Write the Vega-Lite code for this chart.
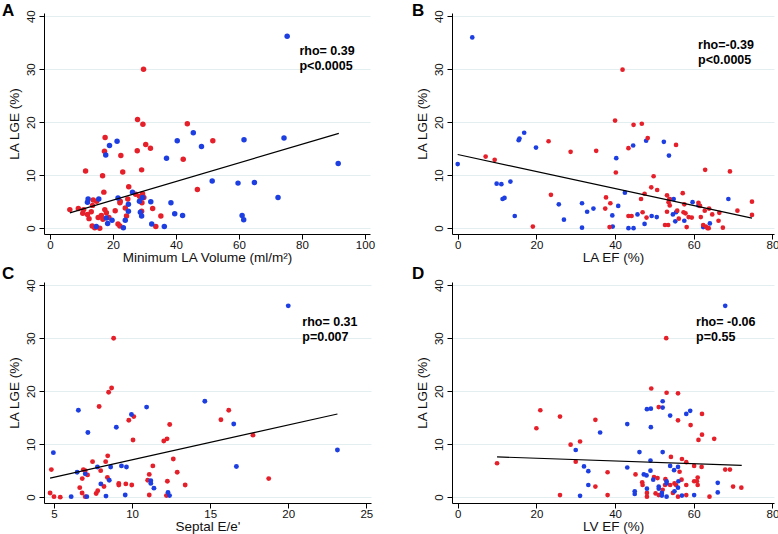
{
  "$schema": "https://vega.github.io/schema/vega-lite/v6.json",
  "padding": {"left": 2, "top": 1, "right": 2, "bottom": 2},
  "columns": 2,
  "bounds": "flush",
  "spacing": {"row": 48, "column": 81},
  "config": {
    "font": "Liberation Sans",
    "view": {"stroke": null},
    "axis": {"domainColor": "#000", "tickColor": "#000", "labelColor": "#111", "titleColor": "#111", "labelFontSize": 11.5, "titleFontSize": 13.5, "titleFontWeight": "normal", "tickSize": 5, "gridColor": "#e2eef0", "gridWidth": 1, "labelFont": "Liberation Sans", "titleFont": "Liberation Sans"},
    "axisX": {"grid": false, "labelPadding": 0, "titlePadding": 0},
    "axisY": {"labelAngle": -90, "labelAlign": "center", "labelBaseline": "bottom", "labelPadding": 3, "titlePadding": 4},
    "title": {"fontSize": 17, "fontWeight": "bold", "color": "#000", "anchor": "start", "frame": "group"}
  },
  "datasets": {
    "a_pts": [
      {"x":29.7,"y":30.0,"g":"g1"},{"x":27.8,"y":20.5,"g":"g1"},{"x":29.5,"y":19.6,"g":"g1"},{"x":17.5,"y":17.1,"g":"g1"},{"x":17.3,"y":14.5,"g":"g1"},{"x":27.7,"y":14.6,"g":"g1"},{"x":30.4,"y":15.8,"g":"g1"},{"x":31.9,"y":15.1,"g":"g1"},{"x":42.3,"y":13.0,"g":"g1"},{"x":43.6,"y":19.7,"g":"g1"},{"x":22.5,"y":13.7,"g":"g1"},{"x":29.1,"y":11.0,"g":"g1"},{"x":11.3,"y":10.8,"g":"g1"},{"x":16.7,"y":9.9,"g":"g1"},{"x":23.1,"y":10.6,"g":"g1"},{"x":46.8,"y":7.3,"g":"g1"},{"x":51.7,"y":16.5,"g":"g1"},{"x":25.0,"y":7.8,"g":"g1"},{"x":17.1,"y":6.8,"g":"g1"},{"x":27.2,"y":6.4,"g":"g1"},{"x":28.4,"y":6.0,"g":"g1"},{"x":29.4,"y":6.5,"g":"g1"},{"x":29.8,"y":5.8,"g":"g1"},{"x":13.7,"y":5.3,"g":"g1"},{"x":14.8,"y":5.1,"g":"g1"},{"x":13.5,"y":4.3,"g":"g1"},{"x":10.7,"y":3.5,"g":"g1"},{"x":9.0,"y":3.7,"g":"g1"},{"x":6.3,"y":3.5,"g":"g1"},{"x":10.4,"y":2.8,"g":"g1"},{"x":11.9,"y":2.6,"g":"g1"},{"x":13.1,"y":3.1,"g":"g1"},{"x":17.4,"y":3.5,"g":"g1"},{"x":17.9,"y":2.9,"g":"g1"},{"x":16.3,"y":2.4,"g":"g1"},{"x":12.4,"y":1.8,"g":"g1"},{"x":15.3,"y":2.0,"g":"g1"},{"x":16.8,"y":1.7,"g":"g1"},{"x":18.7,"y":2.0,"g":"g1"},{"x":20.7,"y":3.3,"g":"g1"},{"x":22.2,"y":4.8,"g":"g1"},{"x":22.3,"y":5.1,"g":"g1"},{"x":24.7,"y":5.5,"g":"g1"},{"x":23.9,"y":3.8,"g":"g1"},{"x":24.3,"y":2.3,"g":"g1"},{"x":21.6,"y":0.8,"g":"g1"},{"x":22.2,"y":0.4,"g":"g1"},{"x":13.4,"y":0.4,"g":"g1"},{"x":14.2,"y":0.1,"g":"g1"},{"x":15.8,"y":0.0,"g":"g1"},{"x":29.1,"y":3.2,"g":"g1"},{"x":29.2,"y":4.8,"g":"g1"},{"x":32.6,"y":3.7,"g":"g1"},{"x":35.2,"y":2.3,"g":"g1"},{"x":33.6,"y":0.3,"g":"g1"},
      {"x":18.9,"y":15.6,"g":"g2"},{"x":21.3,"y":16.4,"g":"g2"},{"x":17.7,"y":13.8,"g":"g2"},{"x":40.4,"y":16.5,"g":"g2"},{"x":45.5,"y":18.0,"g":"g2"},{"x":37.0,"y":13.2,"g":"g2"},{"x":26.2,"y":6.8,"g":"g2"},{"x":12.1,"y":5.5,"g":"g2"},{"x":11.9,"y":4.9,"g":"g2"},{"x":15.5,"y":5.5,"g":"g2"},{"x":17.9,"y":1.9,"g":"g2"},{"x":19.7,"y":1.5,"g":"g2"},{"x":21.6,"y":5.7,"g":"g2"},{"x":24.9,"y":4.5,"g":"g2"},{"x":24.9,"y":3.2,"g":"g2"},{"x":23.9,"y":1.5,"g":"g2"},{"x":23.3,"y":0.1,"g":"g2"},{"x":14.7,"y":0.3,"g":"g2"},{"x":18.3,"y":0.9,"g":"g2"},{"x":28.7,"y":3.0,"g":"g2"},{"x":29.1,"y":2.3,"g":"g2"},{"x":28.4,"y":5.1,"g":"g2"},{"x":32.0,"y":5.0,"g":"g2"},{"x":29.4,"y":5.8,"g":"g2"},{"x":38.4,"y":4.8,"g":"g2"},{"x":39.6,"y":2.7,"g":"g2"},{"x":42.1,"y":2.4,"g":"g2"},{"x":32.3,"y":0.8,"g":"g2"},{"x":36.3,"y":0.3,"g":"g2"},{"x":75.3,"y":36.2,"g":"g2"},{"x":61.6,"y":16.7,"g":"g2"},{"x":74.3,"y":17.0,"g":"g2"},{"x":48.1,"y":15.4,"g":"g2"},{"x":91.5,"y":12.2,"g":"g2"},{"x":51.5,"y":8.9,"g":"g2"},{"x":59.7,"y":8.5,"g":"g2"},{"x":64.9,"y":8.6,"g":"g2"},{"x":72.4,"y":5.8,"g":"g2"},{"x":61.0,"y":2.4,"g":"g2"},{"x":61.5,"y":1.6,"g":"g2"}
    ],
    "a_fit": [{"x":6.3,"y":2.9},{"x":91.7,"y":17.9}],
    "b_pts": [
      {"x":3.7,"y":36.0,"g":"g2"},{"x":0,"y":12.1,"g":"g2"},{"x":16.9,"y":18.0,"g":"g2"},{"x":15.7,"y":16.9,"g":"g2"},{"x":15.5,"y":16.6,"g":"g2"},{"x":19.9,"y":15.2,"g":"g2"},{"x":9.9,"y":8.4,"g":"g2"},{"x":11.1,"y":8.3,"g":"g2"},{"x":13.4,"y":8.8,"g":"g2"},{"x":11.4,"y":5.5,"g":"g2"},{"x":11.9,"y":5.7,"g":"g2"},{"x":25.7,"y":4.5,"g":"g2"},{"x":31.6,"y":4.7,"g":"g2"},{"x":32.9,"y":3.1,"g":"g2"},{"x":14.5,"y":2.3,"g":"g2"},{"x":27.0,"y":1.6,"g":"g2"},{"x":31.6,"y":0.1,"g":"g2"},{"x":47.9,"y":16.5,"g":"g2"},{"x":44.6,"y":15.6,"g":"g2"},{"x":52.4,"y":16.3,"g":"g2"},{"x":53.7,"y":13.7,"g":"g2"},{"x":40.3,"y":13.2,"g":"g2"},{"x":42.5,"y":6.7,"g":"g2"},{"x":40.8,"y":4.2,"g":"g2"},{"x":34.5,"y":3.7,"g":"g2"},{"x":39.3,"y":2.4,"g":"g2"},{"x":45.7,"y":2.6,"g":"g2"},{"x":49.3,"y":2.3,"g":"g2"},{"x":50.6,"y":2.1,"g":"g2"},{"x":47.5,"y":0.8,"g":"g2"},{"x":43.4,"y":0.0,"g":"g2"},{"x":44.7,"y":0.0,"g":"g2"},{"x":39.4,"y":0.3,"g":"g2"},{"x":53.9,"y":5.5,"g":"g2"},{"x":54.9,"y":5.5,"g":"g2"},{"x":59.7,"y":4.9,"g":"g2"},{"x":61.2,"y":4.3,"g":"g2"},{"x":68.8,"y":5.5,"g":"g2"},{"x":54.7,"y":2.6,"g":"g2"},{"x":55.5,"y":3.0,"g":"g2"},{"x":55.3,"y":1.3,"g":"g2"},{"x":57.6,"y":1.4,"g":"g2"},{"x":64.1,"y":0.9,"g":"g2"},{"x":62.4,"y":0.2,"g":"g2"},
      {"x":7.1,"y":13.5,"g":"g1"},{"x":9.4,"y":12.9,"g":"g1"},{"x":23.1,"y":16.4,"g":"g1"},{"x":28.7,"y":14.4,"g":"g1"},{"x":23.7,"y":6.3,"g":"g1"},{"x":19.1,"y":0.3,"g":"g1"},{"x":41.9,"y":29.9,"g":"g1"},{"x":40.0,"y":20.3,"g":"g1"},{"x":44.7,"y":19.5,"g":"g1"},{"x":46.8,"y":19.7,"g":"g1"},{"x":48.3,"y":17.0,"g":"g1"},{"x":43.4,"y":15.1,"g":"g1"},{"x":55.5,"y":15.7,"g":"g1"},{"x":35.2,"y":14.6,"g":"g1"},{"x":40.2,"y":10.5,"g":"g1"},{"x":62.9,"y":11.0,"g":"g1"},{"x":69.2,"y":10.7,"g":"g1"},{"x":49.8,"y":9.8,"g":"g1"},{"x":49.2,"y":7.7,"g":"g1"},{"x":50.7,"y":7.2,"g":"g1"},{"x":47.5,"y":6.5,"g":"g1"},{"x":46.6,"y":5.5,"g":"g1"},{"x":37.7,"y":5.8,"g":"g1"},{"x":38.8,"y":4.7,"g":"g1"},{"x":37.5,"y":3.7,"g":"g1"},{"x":43.4,"y":2.3,"g":"g1"},{"x":44.2,"y":2.3,"g":"g1"},{"x":47.0,"y":3.0,"g":"g1"},{"x":48.0,"y":2.0,"g":"g1"},{"x":52.7,"y":0.6,"g":"g1"},{"x":53.5,"y":0.6,"g":"g1"},{"x":38.6,"y":0.2,"g":"g1"},{"x":53.2,"y":6.2,"g":"g1"},{"x":53.8,"y":5.5,"g":"g1"},{"x":53.6,"y":4.9,"g":"g1"},{"x":53.9,"y":4.3,"g":"g1"},{"x":57.2,"y":6.6,"g":"g1"},{"x":57.6,"y":4.5,"g":"g1"},{"x":61.2,"y":4.8,"g":"g1"},{"x":61.6,"y":4.2,"g":"g1"},{"x":63.9,"y":3.7,"g":"g1"},{"x":64.7,"y":2.6,"g":"g1"},{"x":66.5,"y":2.9,"g":"g1"},{"x":71.1,"y":3.3,"g":"g1"},{"x":74.8,"y":5.0,"g":"g1"},{"x":74.8,"y":2.5,"g":"g1"},{"x":53.2,"y":3.1,"g":"g1"},{"x":55.8,"y":3.3,"g":"g1"},{"x":57.4,"y":3.0,"g":"g1"},{"x":57.9,"y":2.8,"g":"g1"},{"x":56.2,"y":1.8,"g":"g1"},{"x":58.7,"y":2.1,"g":"g1"},{"x":59.5,"y":2.0,"g":"g1"},{"x":58.2,"y":0.2,"g":"g1"},{"x":61.8,"y":2.1,"g":"g1"},{"x":62.8,"y":3.3,"g":"g1"},{"x":62.4,"y":0.6,"g":"g1"},{"x":63.1,"y":0.3,"g":"g1"},{"x":63.5,"y":0.0,"g":"g1"},{"x":63.8,"y":0.0,"g":"g1"},{"x":66.3,"y":1.4,"g":"g1"},{"x":67.4,"y":0.1,"g":"g1"}
    ],
    "b_fit": [{"x":0,"y":13.9},{"x":74.8,"y":1.9}],
    "c_pts": [
      {"x":8.82,"y":30.0,"g":"g1"},{"x":8.69,"y":20.6,"g":"g1"},{"x":8.5,"y":19.8,"g":"g1"},{"x":7.89,"y":17.1,"g":"g1"},{"x":10.11,"y":15.2,"g":"g1"},{"x":9.79,"y":14.5,"g":"g1"},{"x":12.41,"y":13.7,"g":"g1"},{"x":10.06,"y":10.8,"g":"g1"},{"x":12.03,"y":10.6,"g":"g1"},{"x":12.24,"y":11.0,"g":"g1"},{"x":8.44,"y":7.8,"g":"g1"},{"x":7.47,"y":6.7,"g":"g1"},{"x":8.31,"y":6.7,"g":"g1"},{"x":12.64,"y":7.2,"g":"g1"},{"x":11.33,"y":5.9,"g":"g1"},{"x":4.83,"y":5.2,"g":"g1"},{"x":6.88,"y":5.2,"g":"g1"},{"x":7.0,"y":5.0,"g":"g1"},{"x":7.99,"y":5.0,"g":"g1"},{"x":7.15,"y":4.2,"g":"g1"},{"x":12.89,"y":4.7,"g":"g1"},{"x":11.1,"y":4.3,"g":"g1"},{"x":8.42,"y":3.7,"g":"g1"},{"x":6.81,"y":3.5,"g":"g1"},{"x":12.26,"y":3.0,"g":"g1"},{"x":11.0,"y":3.2,"g":"g1"},{"x":6.65,"y":1.8,"g":"g1"},{"x":8.2,"y":2.0,"g":"g1"},{"x":9.15,"y":2.6,"g":"g1"},{"x":9.15,"y":2.3,"g":"g1"},{"x":9.6,"y":2.5,"g":"g1"},{"x":9.98,"y":2.3,"g":"g1"},{"x":13.4,"y":2.3,"g":"g1"},{"x":7.8,"y":1.2,"g":"g1"},{"x":7.7,"y":0.7,"g":"g1"},{"x":6.8,"y":0.8,"g":"g1"},{"x":7.0,"y":0.1,"g":"g1"},{"x":4.75,"y":0.8,"g":"g1"},{"x":5.0,"y":0.1,"g":"g1"},{"x":5.4,"y":0.0,"g":"g1"},{"x":11.1,"y":0.4,"g":"g1"},{"x":12.2,"y":0.3,"g":"g1"},{"x":16.19,"y":16.4,"g":"g1"},{"x":15.69,"y":14.6,"g":"g1"},{"x":17.74,"y":11.7,"g":"g1"},{"x":18.75,"y":3.5,"g":"g1"},
      {"x":6.56,"y":16.4,"g":"g2"},{"x":10.93,"y":17.0,"g":"g2"},{"x":9.96,"y":15.6,"g":"g2"},{"x":8.99,"y":13.2,"g":"g2"},{"x":7.17,"y":12.2,"g":"g2"},{"x":4.96,"y":8.4,"g":"g2"},{"x":7.78,"y":5.7,"g":"g2"},{"x":8.63,"y":5.7,"g":"g2"},{"x":9.32,"y":5.9,"g":"g2"},{"x":9.64,"y":5.7,"g":"g2"},{"x":6.48,"y":4.7,"g":"g2"},{"x":7.0,"y":4.4,"g":"g2"},{"x":8.54,"y":3.2,"g":"g2"},{"x":11.2,"y":3.1,"g":"g2"},{"x":11.2,"y":2.6,"g":"g2"},{"x":8.0,"y":2.5,"g":"g2"},{"x":11.4,"y":1.7,"g":"g2"},{"x":6.1,"y":0.1,"g":"g2"},{"x":7.1,"y":0.1,"g":"g2"},{"x":8.33,"y":0.2,"g":"g2"},{"x":9.56,"y":0.4,"g":"g2"},{"x":12.3,"y":0.9,"g":"g2"},{"x":12.4,"y":0.3,"g":"g2"},{"x":20.0,"y":36.1,"g":"g2"},{"x":14.66,"y":18.1,"g":"g2"},{"x":16.51,"y":13.8,"g":"g2"},{"x":23.15,"y":8.9,"g":"g2"},{"x":16.68,"y":5.8,"g":"g2"}
    ],
    "c_fit": [{"x":4.75,"y":3.6},{"x":23.15,"y":15.7}],
    "d_pts": [
      {"x":21.0,"y":16.4,"g":"g1"},{"x":26.0,"y":15.2,"g":"g1"},{"x":20.0,"y":13.0,"g":"g1"},{"x":28.7,"y":9.9,"g":"g1"},{"x":31.1,"y":10.5,"g":"g1"},{"x":10.0,"y":6.4,"g":"g1"},{"x":30.0,"y":6.7,"g":"g1"},{"x":26.0,"y":0.4,"g":"g1"},{"x":53.0,"y":30.0,"g":"g1"},{"x":49.2,"y":20.5,"g":"g1"},{"x":53.1,"y":19.7,"g":"g1"},{"x":56.0,"y":19.6,"g":"g1"},{"x":51.1,"y":17.0,"g":"g1"},{"x":62.1,"y":15.7,"g":"g1"},{"x":56.0,"y":14.5,"g":"g1"},{"x":35.0,"y":14.6,"g":"g1"},{"x":59.2,"y":13.6,"g":"g1"},{"x":62.1,"y":11.8,"g":"g1"},{"x":61.2,"y":10.8,"g":"g1"},{"x":65.2,"y":11.0,"g":"g1"},{"x":54.2,"y":7.6,"g":"g1"},{"x":57.0,"y":7.2,"g":"g1"},{"x":58.1,"y":6.6,"g":"g1"},{"x":60.1,"y":5.9,"g":"g1"},{"x":62.0,"y":5.7,"g":"g1"},{"x":38.1,"y":4.7,"g":"g1"},{"x":45.2,"y":4.3,"g":"g1"},{"x":56.4,"y":4.8,"g":"g1"},{"x":46.9,"y":2.8,"g":"g1"},{"x":47.0,"y":2.3,"g":"g1"},{"x":49.9,"y":3.8,"g":"g1"},{"x":50.8,"y":3.6,"g":"g1"},{"x":52.8,"y":3.4,"g":"g1"},{"x":54.0,"y":2.3,"g":"g1"},{"x":55.1,"y":2.6,"g":"g1"},{"x":55.5,"y":2.3,"g":"g1"},{"x":56.9,"y":3.3,"g":"g1"},{"x":58.1,"y":2.3,"g":"g1"},{"x":60.1,"y":3.0,"g":"g1"},{"x":60.8,"y":3.0,"g":"g1"},{"x":61.0,"y":3.7,"g":"g1"},{"x":61.0,"y":2.3,"g":"g1"},{"x":70.0,"y":2.0,"g":"g1"},{"x":72.1,"y":1.8,"g":"g1"},{"x":68.0,"y":5.2,"g":"g1"},{"x":69.2,"y":5.2,"g":"g1"},{"x":35.0,"y":2.0,"g":"g1"},{"x":38.1,"y":0.4,"g":"g1"},{"x":48.1,"y":0.8,"g":"g1"},{"x":48.1,"y":0.1,"g":"g1"},{"x":50.3,"y":0.7,"g":"g1"},{"x":51.1,"y":0.4,"g":"g1"},{"x":52.1,"y":1.4,"g":"g1"},{"x":54.7,"y":0.8,"g":"g1"},{"x":56.0,"y":0.1,"g":"g1"},{"x":58.1,"y":0.4,"g":"g1"},{"x":64.0,"y":0.1,"g":"g1"},{"x":52.7,"y":2.3,"g":"g1"},
      {"x":30.0,"y":8.9,"g":"g2"},{"x":32.1,"y":5.8,"g":"g2"},{"x":33.2,"y":4.9,"g":"g2"},{"x":33.2,"y":2.3,"g":"g2"},{"x":31.1,"y":0.25,"g":"g2"},{"x":68.0,"y":36.1,"g":"g2"},{"x":52.1,"y":18.1,"g":"g2"},{"x":52.1,"y":16.9,"g":"g2"},{"x":48.1,"y":16.6,"g":"g2"},{"x":49.1,"y":16.7,"g":"g2"},{"x":59.1,"y":16.3,"g":"g2"},{"x":58.1,"y":15.7,"g":"g2"},{"x":54.0,"y":15.4,"g":"g2"},{"x":43.1,"y":13.8,"g":"g2"},{"x":49.1,"y":13.2,"g":"g2"},{"x":36.2,"y":12.2,"g":"g2"},{"x":46.2,"y":8.5,"g":"g2"},{"x":52.1,"y":8.5,"g":"g2"},{"x":49.0,"y":6.9,"g":"g2"},{"x":43.1,"y":5.6,"g":"g2"},{"x":47.3,"y":4.3,"g":"g2"},{"x":48.0,"y":4.1,"g":"g2"},{"x":49.0,"y":5.0,"g":"g2"},{"x":54.0,"y":5.9,"g":"g2"},{"x":56.0,"y":5.7,"g":"g2"},{"x":55.0,"y":5.1,"g":"g2"},{"x":49.7,"y":3.3,"g":"g2"},{"x":53.1,"y":3.0,"g":"g2"},{"x":53.1,"y":2.6,"g":"g2"},{"x":56.1,"y":3.0,"g":"g2"},{"x":66.1,"y":2.7,"g":"g2"},{"x":45.0,"y":1.1,"g":"g2"},{"x":45.0,"y":0.6,"g":"g2"},{"x":48.1,"y":1.6,"g":"g2"},{"x":51.1,"y":2.0,"g":"g2"},{"x":51.1,"y":1.6,"g":"g2"},{"x":51.9,"y":0.8,"g":"g2"},{"x":51.9,"y":0.3,"g":"g2"},{"x":53.1,"y":0.1,"g":"g2"},{"x":56.0,"y":1.8,"g":"g2"},{"x":55.1,"y":1.1,"g":"g2"},{"x":57.0,"y":0.3,"g":"g2"},{"x":60.1,"y":0.4,"g":"g2"},{"x":66.1,"y":0.9,"g":"g2"}
    ],
    "d_fit": [{"x":10.0,"y":7.6},{"x":72.2,"y":6.0}]
  },
  "concat": [
    {
      "width": 326, "height": 221,
      "title": {"text": "A", "dx": -42, "offset": -10},
      "layer": [
        {"data": {"name": "a_pts"}, "mark": {"type": "circle", "size": 30, "opacity": 1},
         "encoding": {
           "x": {"field": "x", "type": "quantitative", "scale": {"domain": [-1.9, 101.6], "nice": false, "zero": false}, "axis": {"values": [0, 20, 40, 60, 80, 100], "title": "Minimum LA Volume (ml/m²)"}},
           "y": {"field": "y", "type": "quantitative", "scale": {"domain": [-1.1, 40.6], "nice": false, "zero": false}, "axis": {"values": [0, 10, 20, 30, 40], "title": "LA LGE (%)", "grid": true}},
           "color": {"field": "g", "type": "nominal", "scale": {"domain": ["g1", "g2"], "range": ["#e6202a", "#1d3fe2"]}, "legend": null}}},
        {"data": {"name": "a_fit"}, "mark": {"type": "line", "color": "#000", "strokeWidth": 1.2},
         "encoding": {"x": {"field": "x", "type": "quantitative"}, "y": {"field": "y", "type": "quantitative"}}},
        {"data": {"values": [{}]}, "mark": {"type": "text", "text": ["rho= 0.39", "p<0.0005"], "align": "left", "baseline": "top", "fontWeight": "bold", "fontSize": 12.5, "lineHeight": 15, "color": "#000"},
         "encoding": {"x": {"datum": 79.2}, "y": {"datum": 34.6}}}
      ]
    },
    {
      "width": 322, "height": 221,
      "title": {"text": "B", "dx": -40, "offset": -10},
      "layer": [
        {"data": {"name": "b_pts"}, "mark": {"type": "circle", "size": 22, "opacity": 1},
         "encoding": {
           "x": {"field": "x", "type": "quantitative", "scale": {"domain": [-1.45, 80.4], "nice": false, "zero": false}, "axis": {"values": [0, 20, 40, 60, 80], "title": "LA EF (%)"}},
           "y": {"field": "y", "type": "quantitative", "scale": {"domain": [-1.1, 40.6], "nice": false, "zero": false}, "axis": {"values": [0, 10, 20, 30, 40], "title": "LA LGE (%)", "grid": true}},
           "color": {"field": "g", "type": "nominal", "scale": {"domain": ["g1", "g2"], "range": ["#e6202a", "#1d3fe2"]}, "legend": null}}},
        {"data": {"name": "b_fit"}, "mark": {"type": "line", "color": "#000", "strokeWidth": 1.2},
         "encoding": {"x": {"field": "x", "type": "quantitative"}, "y": {"field": "y", "type": "quantitative"}}},
        {"data": {"values": [{}]}, "mark": {"type": "text", "text": ["rho=-0.39", "p<0.0005"], "align": "left", "baseline": "top", "fontWeight": "bold", "fontSize": 12.5, "lineHeight": 15, "color": "#000"},
         "encoding": {"x": {"datum": 61.1}, "y": {"datum": 35.6}}}
      ]
    },
    {
      "width": 327, "height": 221,
      "title": {"text": "C", "dx": -42, "offset": -4},
      "layer": [
        {"data": {"name": "c_pts"}, "mark": {"type": "circle", "size": 24, "opacity": 1},
         "encoding": {
           "x": {"field": "x", "type": "quantitative", "scale": {"domain": [4.36, 25.3], "nice": false, "zero": false}, "axis": {"values": [5, 10, 15, 20, 25], "title": "Septal E/e'"}},
           "y": {"field": "y", "type": "quantitative", "scale": {"domain": [-1.1, 40.6], "nice": false, "zero": false}, "axis": {"values": [0, 10, 20, 30, 40], "title": "LA LGE (%)", "grid": true}},
           "color": {"field": "g", "type": "nominal", "scale": {"domain": ["g1", "g2"], "range": ["#e6202a", "#1d3fe2"]}, "legend": null}}},
        {"data": {"name": "c_fit"}, "mark": {"type": "line", "color": "#000", "strokeWidth": 1.2},
         "encoding": {"x": {"field": "x", "type": "quantitative"}, "y": {"field": "y", "type": "quantitative"}}},
        {"data": {"values": [{}]}, "mark": {"type": "text", "text": ["rho= 0.31", "p=0.007"], "align": "left", "baseline": "top", "fontWeight": "bold", "fontSize": 12.5, "lineHeight": 15, "color": "#000"},
         "encoding": {"x": {"datum": 20.9}, "y": {"datum": 34.2}}}
      ]
    },
    {
      "width": 322, "height": 221,
      "title": {"text": "D", "dx": -40, "offset": -4},
      "layer": [
        {"data": {"name": "d_pts"}, "mark": {"type": "circle", "size": 22, "opacity": 1},
         "encoding": {
           "x": {"field": "x", "type": "quantitative", "scale": {"domain": [-1.45, 80.4], "nice": false, "zero": false}, "axis": {"values": [0, 20, 40, 60, 80], "title": "LV EF (%)"}},
           "y": {"field": "y", "type": "quantitative", "scale": {"domain": [-1.1, 40.6], "nice": false, "zero": false}, "axis": {"values": [0, 10, 20, 30, 40], "title": "LA LGE (%)", "grid": true}},
           "color": {"field": "g", "type": "nominal", "scale": {"domain": ["g1", "g2"], "range": ["#e6202a", "#1d3fe2"]}, "legend": null}}},
        {"data": {"name": "d_fit"}, "mark": {"type": "line", "color": "#000", "strokeWidth": 1.2},
         "encoding": {"x": {"field": "x", "type": "quantitative"}, "y": {"field": "y", "type": "quantitative"}}},
        {"data": {"values": [{}]}, "mark": {"type": "text", "text": ["rho= -0.06", "p=0.55"], "align": "left", "baseline": "top", "fontWeight": "bold", "fontSize": 12.5, "lineHeight": 15, "color": "#000"},
         "encoding": {"x": {"datum": 60.6}, "y": {"datum": 34.2}}}
      ]
    }
  ]
}
